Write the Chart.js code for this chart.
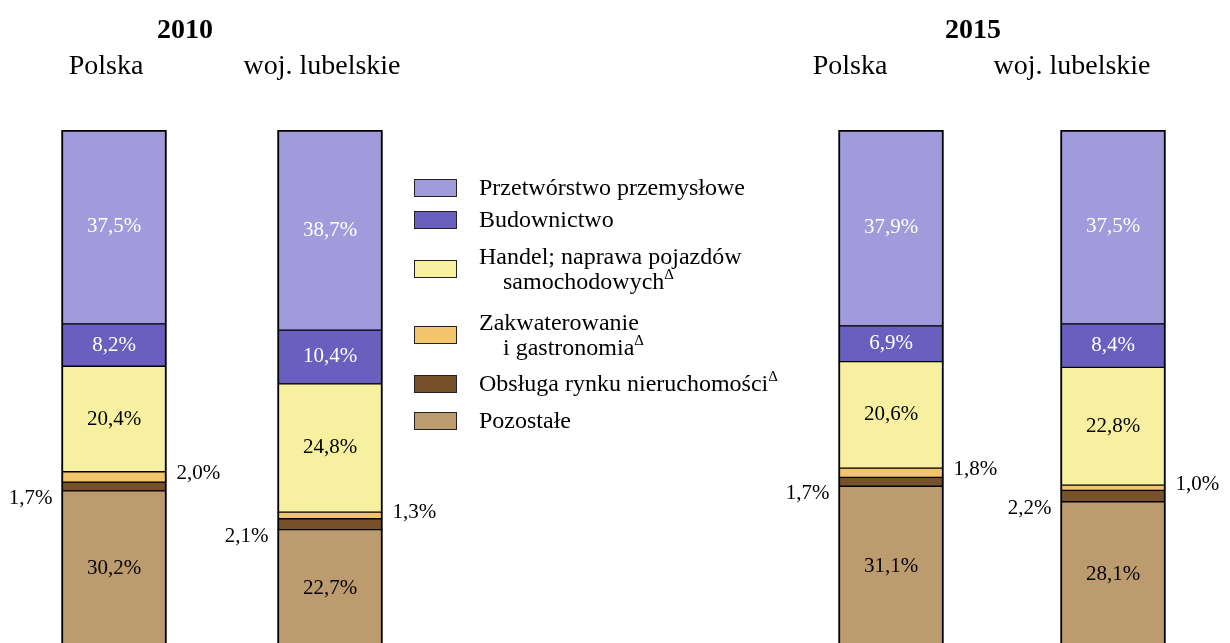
<!DOCTYPE html>
<html lang="pl">
<head>
<meta charset="utf-8">
<title>Struktura - 2010 i 2015</title>
<script src="https://cdn.jsdelivr.net/npm/chart.js@4.4.1/dist/chart.umd.min.js"></script>
<style>
    html, body { margin: 0; padding: 0; background: #fff; overflow: hidden; }
    body { width: 1230px; height: 643px; position: relative; font-family: "Liberation Serif", "Times New Roman", serif; color: #000; }
    .chart-box { position: absolute; top: 0; }
    #box2010 { left: 0; }
    #box2015 { left: 780px; }
    .legend { position: absolute; left: 414px; top: 175px; display: flex; flex-direction: column; }
    .legend-row { display: flex; align-items: center; }
    .legend-row:nth-child(2) { margin-top: 7px; }
    .legend-row:nth-child(3) { margin-top: 12px; }
    .legend-row:nth-child(4) { margin-top: 16px; }
    .legend-row:nth-child(5) { margin-top: 11px; }
    .legend-row:nth-child(6) { margin-top: 12px; }
    .legend-box { width: 41px; height: 16px; border: 1px solid #222; margin-right: 22px; flex: none; }
    .legend-text { font-size: 24px; line-height: 25px; white-space: nowrap; }
    .legend-text .indent { padding-left: 24px; }
    .legend-text sup { font-size: 15px; line-height: 0; vertical-align: 0; position: relative; top: -10px; }
</style>
</head>
<body>
<div class="chart-box" id="box2010"><canvas id="chart2010" width="440" height="660"></canvas></div>
<div class="chart-box" id="box2015"><canvas id="chart2015" width="450" height="660"></canvas></div>
<div class="legend" id="legend"></div>

<script>
// ---- dane ----
const years = ['2010', '2015'];
const regions = ['Polska', 'woj. lubelskie'];

// kolejnosc jak w legendzie (od gory), wartosci: Polska 2010, lubelskie 2010, Polska 2015, lubelskie 2015
const seriesNames = [
    'Przetwórstwo przemysłowe',
    'Budownictwo',
    'Handel; naprawa pojazdów samochodowych',
    'Zakwaterowanie i gastronomia',
    'Obsługa rynku nieruchomości',
    'Pozostałe'
];
const przetworstwo   = [37.5, 38.7, 37.9, 37.5];
const budownictwo    = [8.2, 10.4, 6.9, 8.4];
const handel         = [20.4, 24.8, 20.6, 22.8];
const zakwaterowanie = [2.0, 1.3, 1.8, 1.0];
const obsluga        = [1.7, 2.1, 1.7, 2.2];
const pozostale      = [30.2, 22.7, 31.1, 28.1];

// legenda: linie tekstu i znak delta
const legendLines = [
    ['Przetwórstwo przemysłowe'],
    ['Budownictwo'],
    ['Handel; naprawa pojazdów', 'samochodowych'],
    ['Zakwaterowanie', 'i gastronomia'],
    ['Obsługa rynku nieruchomości'],
    ['Pozostałe']
];
const legendDelta = [false, false, true, true, true, false];

// ---- wyglad ----
const seriesValues = [przetworstwo, budownictwo, handel, zakwaterowanie, obsluga, pozostale];
const seriesColors = ['#a29bdb', '#6a5fbf', '#f7f0a0', '#f2c46b', '#76512a', '#bc9b6e'];
const labelColors  = ['#fff', '#fff', '#000', '#000', '#000', '#000'];
const labelSides   = ['in', 'in', 'in', 'right', 'left', 'in'];
const FONT = '"Liberation Serif", "Times New Roman", serif';

function formatPct(v) {
    return v.toFixed(1).replace('.', ',') + '%';
}

// etykiety wartosci na slupkach
const valueLabels = {
    id: 'valueLabels',
    afterDatasetsDraw(chart) {
        const ctx = chart.ctx;
        ctx.save();
        ctx.font = '21px ' + FONT;
        ctx.textBaseline = 'middle';
        chart.data.datasets.forEach((ds, i) => {
            const meta = chart.getDatasetMeta(i);
            meta.data.forEach((bar, j) => {
                const txt = formatPct(ds.data[j]);
                const cy = (bar.y + bar.base) / 2;
                const half = bar.width / 2;
                if (ds.labelSide === 'right') {
                    ctx.textAlign = 'left';
                    ctx.fillStyle = '#000';
                    ctx.fillText(txt, bar.x + half + 10, cy - 3);
                } else if (ds.labelSide === 'left') {
                    ctx.textAlign = 'right';
                    ctx.fillStyle = '#000';
                    ctx.fillText(txt, bar.x - half - 9, cy + 12);
                } else {
                    ctx.textAlign = 'center';
                    ctx.fillStyle = ds.labelColor;
                    ctx.fillText(txt, bar.x, cy);
                }
            });
        });
        ctx.restore();
    }
};

// rok nad para slupkow
const yearTitle = {
    id: 'yearTitle',
    afterDraw(chart, args, opts) {
        const ctx = chart.ctx;
        const area = chart.chartArea;
        ctx.save();
        ctx.font = 'bold 28px ' + FONT;
        ctx.fillStyle = '#000';
        ctx.textAlign = 'center';
        ctx.textBaseline = 'middle';
        ctx.fillText(opts.text, (area.left + area.right) / 2 + opts.shift, 31);
        ctx.restore();
    }
};

function buildDatasets(from) {
    // od dolu: Pozostale ... Przetworstwo
    const out = [];
    for (let i = seriesNames.length - 1; i >= 0; i--) {
        const isTop = i === 0;
        out.push({
            label: seriesNames[i],
            data: seriesValues[i].slice(from, from + 2),
            backgroundColor: seriesColors[i],
            borderColor: '#000',
            borderWidth: { left: 2, right: 2, top: isTop ? 2 : 1, bottom: 1 },
            borderSkipped: false,
            barThickness: 105,
            labelColor: labelColors[i],
            labelSide: labelSides[i]
        });
    }
    return out;
}

function makeChart(canvasId, yearIdx, pad, labelShift, yearShift) {
    return new Chart(document.getElementById(canvasId), {
        type: 'bar',
        data: {
            labels: regions,
            datasets: buildDatasets(yearIdx * 2)
        },
        options: {
            responsive: false,
            animation: false,
            layout: { padding: { left: pad.left, right: pad.right, top: 0, bottom: 13 } },
            plugins: {
                legend: { display: false },
                tooltip: { enabled: false },
                yearTitle: { text: years[yearIdx], shift: yearShift }
            },
            scales: {
                x: {
                    stacked: true,
                    position: 'top',
                    grid: { display: false, drawTicks: false },
                    border: { display: false },
                    ticks: {
                        color: '#000',
                        font: { family: FONT, size: 28 },
                        padding: 47,
                        labelOffset: labelShift,
                        maxRotation: 0
                    },
                    afterFit(scale) {
                        scale.height = 130;
                        scale.paddingLeft = 0;
                        scale.paddingRight = 0;
                    }
                },
                y: {
                    stacked: true,
                    display: false,
                    min: 0,
                    max: 100
                }
            }
        },
        plugins: [valueLabels, yearTitle]
    });
}

// legenda HTML
function renderLegend() {
    document.getElementById('legend').innerHTML = seriesNames.map((name, i) => `
        <div class="legend-row">
            <div class="legend-box" style="background:${seriesColors[i]}"></div>
            <div class="legend-text">
                ${legendLines[i].map((line, k) => {
                    const last = k === legendLines[i].length - 1;
                    const mark = last && legendDelta[i] ? '<sup>&Delta;</sup>' : '';
                    return `<div class="${k > 0 ? 'indent' : ''}">${line}${mark}</div>`;
                }).join('')}
            </div>
        </div>
    `).join('');
}

makeChart('chart2010', 0, { left: 6, right: 2 }, -8, -37);
makeChart('chart2015', 1, { left: 0, right: 6 }, -41, -29);
renderLegend();
</script>
</body>
</html>
